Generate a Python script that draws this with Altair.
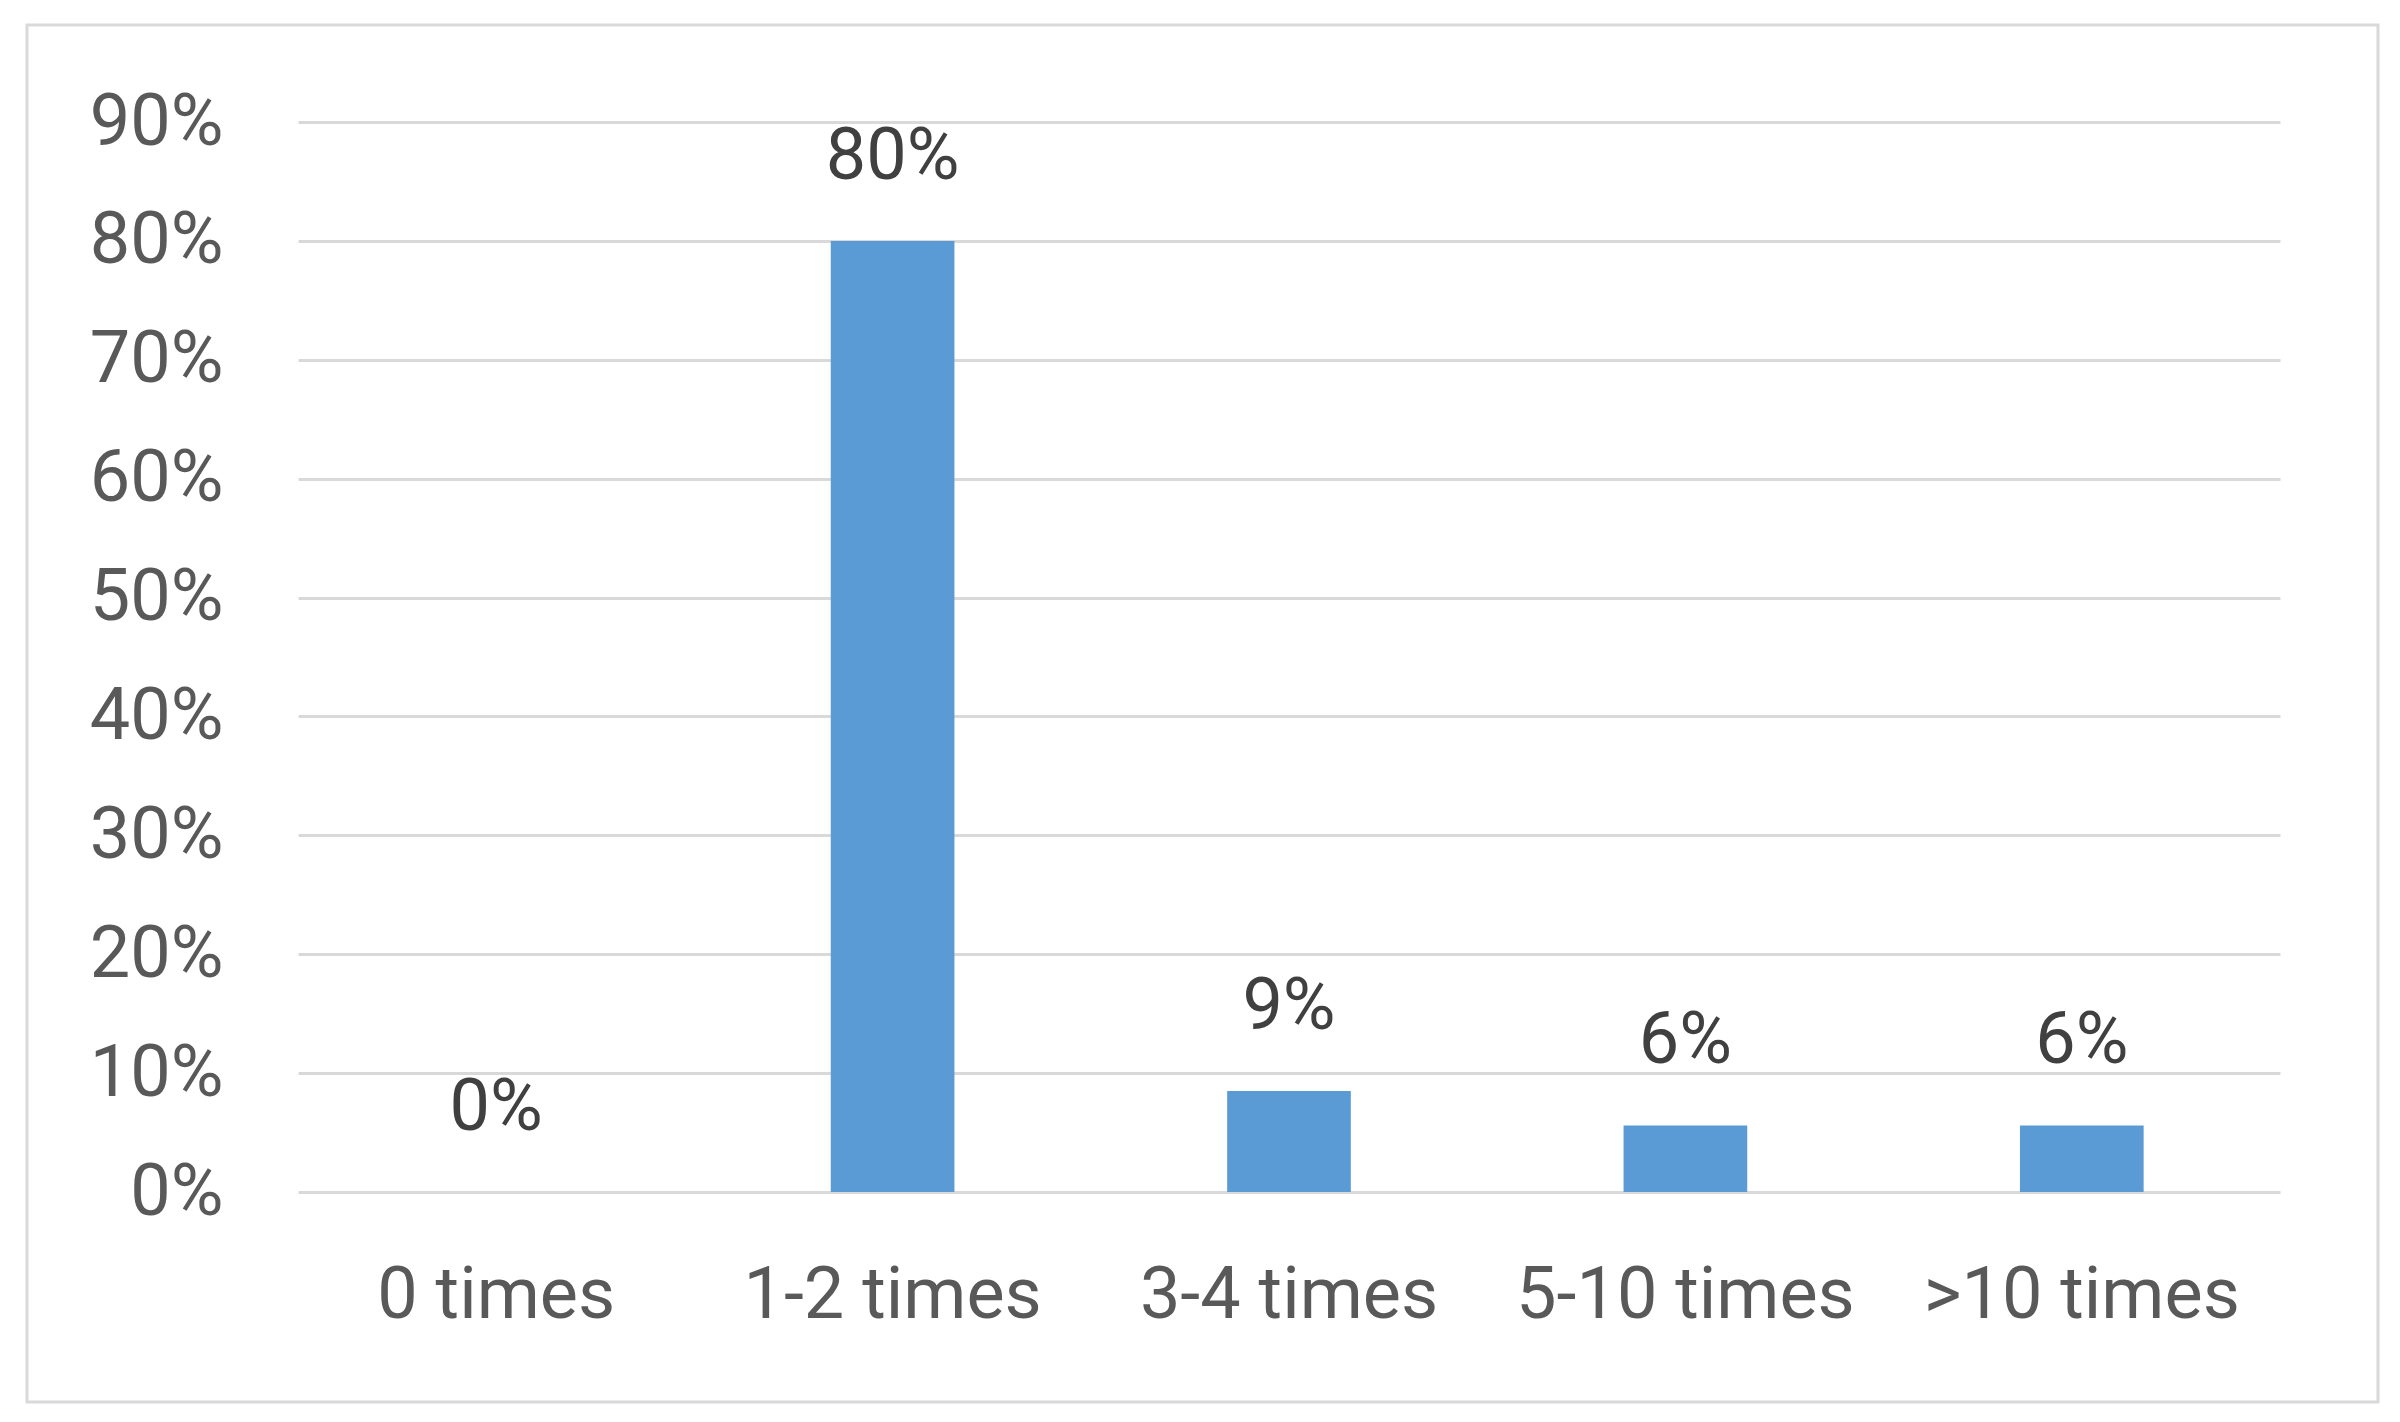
import altair as alt
import pandas as pd

categories = ["0 times", "1-2 times", "3-4 times", "5-10 times", ">10 times"]
shares = [0.0, 0.80, 0.085, 0.056, 0.056]
labels = ["0%", "80%", "9%", "6%", "6%"]
y_ticks = [0.0, 0.1, 0.2, 0.3, 0.4, 0.5, 0.6, 0.7, 0.8, 0.9]

df = pd.DataFrame({"cat": categories, "share": shares, "label": labels})

FONT = "Roboto"
AXIS_COLOR = "#595959"

x = alt.X(
    "cat:N",
    sort=categories,
    scale=alt.Scale(paddingInner=0.688, paddingOuter=0.344),
    axis=alt.Axis(
        title=None, labelAngle=0, ticks=False, domain=False, grid=False,
        labelFont=FONT, labelFontSize=72, labelColor=AXIS_COLOR,
        labelPadding=125, labelBaseline="alphabetic", labelOverlap=False,
        labelLimit=800,
    ),
)
y = alt.Y(
    "share:Q",
    scale=alt.Scale(domain=[0, 0.9], nice=False),
    axis=alt.Axis(
        values=y_ticks, format=".0%", title=None, ticks=False, domain=False,
        gridColor="#d9d9d9", gridWidth=3,
        labelFont=FONT, labelFontSize=72, labelColor=AXIS_COLOR,
        labelPadding=75, labelBaseline="middle", labelLimit=800,
    ),
)

border = alt.Chart(pd.DataFrame({"a": [0]})).mark_rect(
    filled=False, stroke="#d9d9d9", strokeWidth=3
).encode(
    x=alt.value(-271), x2=alt.value(2080), y=alt.value(-97), y2=alt.value(1280)
)

bars = alt.Chart(df).mark_bar(color="#5b9bd5").encode(x=x, y=y)

text = alt.Chart(df).mark_text(
    font=FONT, fontSize=72, color="#404040", align="center",
    baseline="alphabetic", dy=-62,
).encode(x=alt.X("cat:N", sort=categories), y=alt.Y("share:Q"), text="label:N")

chart = alt.layer(border, bars, text).properties(
    width=1982,
    height=1070,
    padding={"left": 290, "top": 114, "right": 105, "bottom": 218},
    autosize=alt.AutoSizeParams(type="none"),
    background="white",
).configure_view(stroke=None)

chart.save("out.html", embed_options={"renderer": "svg", "actions": False})
